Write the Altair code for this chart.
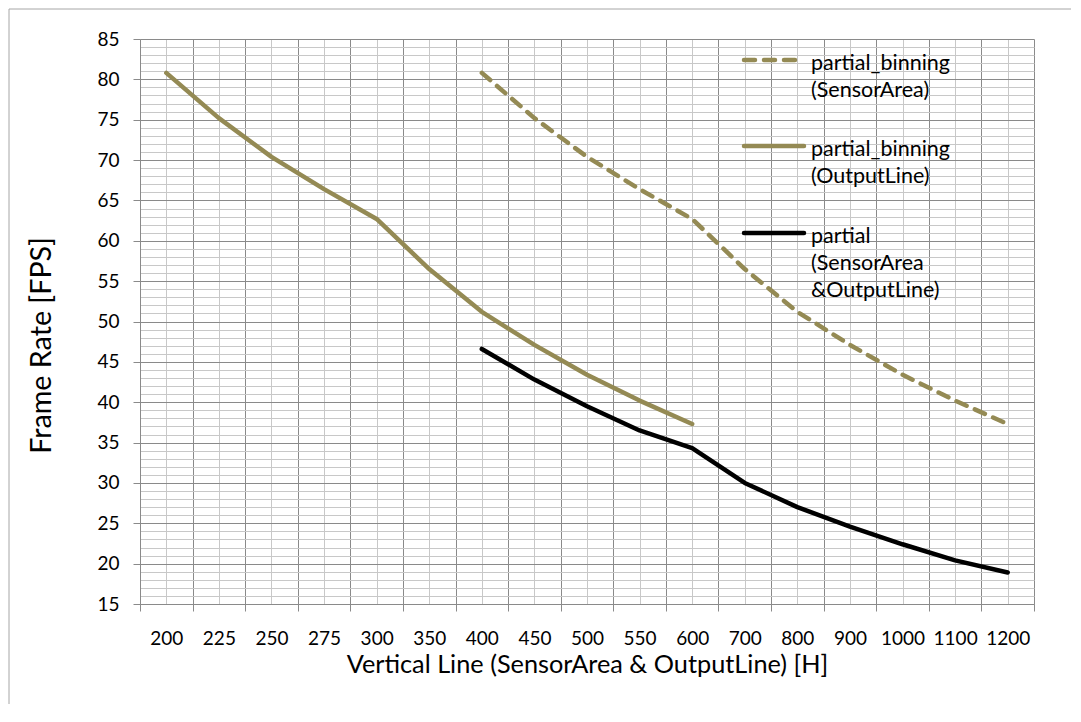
import json
import altair as alt
import pandas as pd

# ---------------- data ----------------
categories = ["200", "225", "250", "275", "300", "350", "400", "450", "500",
              "550", "600", "700", "800", "900", "1000", "1100", "1200"]

binning_output_cats = ["200", "225", "250", "275", "300", "350", "400", "450", "500", "550", "600"]
binning_output_fps = [80.8, 75.2, 70.4, 66.4, 62.7, 56.5, 51.2, 47.1, 43.4, 40.2, 37.3]

binning_sensor_cats = ["400", "450", "500", "550", "600", "700", "800", "900", "1000", "1100", "1200"]
binning_sensor_fps = [80.8, 75.2, 70.4, 66.4, 62.7, 56.5, 51.2, 47.1, 43.4, 40.2, 37.3]

partial_cats = ["400", "450", "500", "550", "600", "700", "800", "900", "1000", "1100", "1200"]
partial_fps = [46.6, 42.8, 39.5, 36.5, 34.3, 30.0, 27.0, 24.6, 22.4, 20.4, 18.9]

legend_labels = ["partial_binning\n(SensorArea)",
                 "partial_binning\n(OutputLine)",
                 "partial\n(SensorArea\n&OutputLine)"]

y_ticks = list(range(15, 86, 5))

# ---------------- styles ----------------
OLIVE = "#948A54"
BLACK = "#000000"
GRID_DARK = "#8a8a8a"
GRID_LIGHT = "#c8c8c8"
FONT = "Lato"
W, H = 894, 565


def frame(cats, vals):
    return pd.DataFrame({
        "pos": [categories.index(c) + 0.5 for c in cats],
        "fps": vals,
    })


df_bo = frame(binning_output_cats, binning_output_fps)
df_bs = frame(binning_sensor_cats, binning_sensor_fps)
df_p = frame(partial_cats, partial_fps)

cats_js = json.dumps(categories)
x_values = [i * 0.5 for i in range(2 * len(categories) + 1)]
y_values = [y_ticks[0] + i * 0.5 for i in range(int((y_ticks[-1] - y_ticks[0]) * 2) + 1)]

x_enc = alt.X(
    "pos:Q",
    scale=alt.Scale(domain=[0, len(categories)], nice=False, zero=False),
    axis=alt.Axis(
        values=x_values,
        tickCount=len(x_values) + 5,
        labelExpr=f"(datum.value % 1 === 0.5) ? {cats_js}[floor(datum.value)] : ''",
        labelOverlap=False,
        labelFlush=False,
        labelFont=FONT, labelFontSize=19, labelColor="#000000",
        labelPadding=18,
        tickSize=7, tickColor=GRID_DARK,
        tickOpacity={"condition": {"test": "datum.value % 1 === 0", "value": 1}, "value": 0},
        grid=True,
        gridColor={"condition": {"test": "datum.value % 1 === 0", "value": GRID_DARK}, "value": GRID_LIGHT},
        gridWidth=1,
        domainColor=GRID_DARK,
        title="Vertical Line (SensorArea & OutputLine) [H]",
        titleFont=FONT, titleFontSize=25.3, titleFontWeight="normal", titleColor="#000000",
        titlePadding=4,
    ),
)

y_enc = alt.Y(
    "fps:Q",
    scale=alt.Scale(domain=[y_ticks[0], y_ticks[-1]], nice=False, zero=False),
    axis=alt.Axis(
        values=y_values,
        tickCount=len(y_values) + 5,
        format="d",
        labelExpr="(datum.value % 5 === 0) ? datum.label : ''",
        labelOverlap=False,
        labelFlush=False,
        labelFont=FONT, labelFontSize=19, labelColor="#000000",
        labelPadding=14,
        tickSize=7, tickColor=GRID_DARK,
        tickOpacity={"condition": {"test": "datum.value % 5 === 0", "value": 1}, "value": 0},
        grid=True,
        gridColor={"condition": {"test": "datum.value % 5 === 0", "value": GRID_DARK}, "value": GRID_LIGHT},
        gridWidth=1,
        domainColor=GRID_DARK,
        title="Frame Rate [FPS]",
        titleFont=FONT, titleFontSize=28.7, titleFontWeight="normal", titleColor="#000000",
        titlePadding=40,
        titleY=306,
    ),
)

line_bo = alt.Chart(df_bo).mark_line(color=OLIVE, strokeWidth=4.5, strokeCap="round",
                                     strokeJoin="round").encode(x=x_enc, y=y_enc, order="pos:Q")
line_bs = alt.Chart(df_bs).mark_line(color=OLIVE, strokeWidth=4.5, strokeCap="round",
                                     strokeJoin="round", strokeDash=[11, 9]).encode(
    x="pos:Q", y="fps:Q", order="pos:Q")
line_p = alt.Chart(df_p).mark_line(color=BLACK, strokeWidth=4.5, strokeCap="round",
                                   strokeJoin="round").encode(x="pos:Q", y="fps:Q", order="pos:Q")

one = pd.DataFrame({"k": [0]})

# chart border (left and top edges visible in the reference)
border_left = alt.Chart(one).mark_rule(color="#a6a6a6", strokeWidth=1).encode(
    x=alt.value(-131), y=alt.value(-30), y2=alt.value(665))
border_top = alt.Chart(one).mark_rule(color="#a6a6a6", strokeWidth=1).encode(
    x=alt.value(-131), x2=alt.value(931), y=alt.value(-30))

# legend
leg_x1, leg_x2, leg_tx = 604, 664, 671
leg_ys = [21, 107, 194]
leg_styles = [
    dict(color=OLIVE, strokeDash=[11, 9]),
    dict(color=OLIVE),
    dict(color=BLACK),
]
legend_layers = []
for lab, ly, st in zip(legend_labels, leg_ys, leg_styles):
    legend_layers.append(
        alt.Chart(one).mark_rule(strokeWidth=4.5, strokeCap="round", **st).encode(
            x=alt.value(leg_x1), x2=alt.value(leg_x2), y=alt.value(ly)))
    legend_layers.append(
        alt.Chart(one).mark_text(text=lab, lineBreak="\n", lineHeight=27, align="left",
                                 baseline="alphabetic", font=FONT, fontSize=21.5,
                                 color="#000000").encode(
            x=alt.value(leg_tx), y=alt.value(ly + 10)))

chart = alt.layer(
    line_bo, line_bs, line_p, border_left, border_top, *legend_layers
).properties(
    width=W, height=H, background="#ffffff", padding=0
).configure_view(
    strokeOpacity=0
)

chart.save("out.html", embed_options={"renderer": "svg", "actions": False})
